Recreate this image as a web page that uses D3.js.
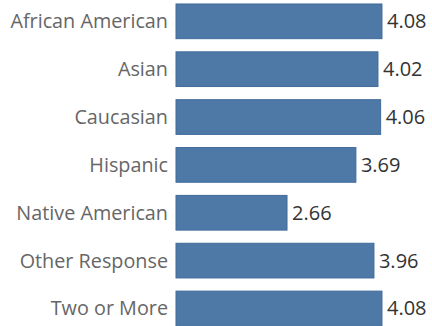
<!DOCTYPE html>
<html>
<head>
<meta charset="utf-8">
<script src="https://cdn.jsdelivr.net/npm/d3@7"></script>
<style>
  html, body { margin: 0; padding: 0; background: #fff; }
  svg { display: block; }
</style>
</head>
<body>
<svg id="chart" width="432" height="326"></svg>
<script>
// Average rating by group
const categories = ["African American", "Asian", "Caucasian", "Hispanic", "Native American", "Other Response", "Two or More"];
const values = [4.08, 4.02, 4.06, 3.69, 2.66, 3.96, 4.08];

const svg = d3.select("#chart");
const font = "'Open Sans', sans-serif";

const x = d3.scaleLinear().domain([1, 5]).range([176, 443.5]);
const y = d3.scaleBand().domain(categories).range([-2.6, 332.4]).paddingInner(0.275).paddingOuter(0.1375);

const rows = svg.selectAll("g.row")
  .data(categories.map((c, i) => ({ c, v: values[i] })))
  .join("g").attr("class", "row");

rows.append("rect")
  .attr("x", x(1))
  .attr("y", d => y(d.c))
  .attr("width", d => x(d.v) - x(1))
  .attr("height", y.bandwidth())
  .attr("fill", "#4e79a7")
  .attr("stroke", "#3f6b9b")
  .attr("stroke-width", 1);

rows.append("text")
  .attr("x", x(1) - 8)
  .attr("y", d => y(d.c) + y.bandwidth() / 2)
  .attr("dy", "0.35em")
  .attr("text-anchor", "end")
  .attr("font-family", font)
  .attr("font-size", 19.8)
  .attr("fill", "#666")
  .text(d => d.c);

rows.append("text")
  .attr("x", d => x(d.v) + 5)
  .attr("y", d => y(d.c) + y.bandwidth() / 2)
  .attr("dy", "0.35em")
  .attr("font-family", font)
  .attr("font-size", 20)
  .attr("fill", "#333")
  .text(d => d.v.toFixed(2));
</script>
</body>
</html>
